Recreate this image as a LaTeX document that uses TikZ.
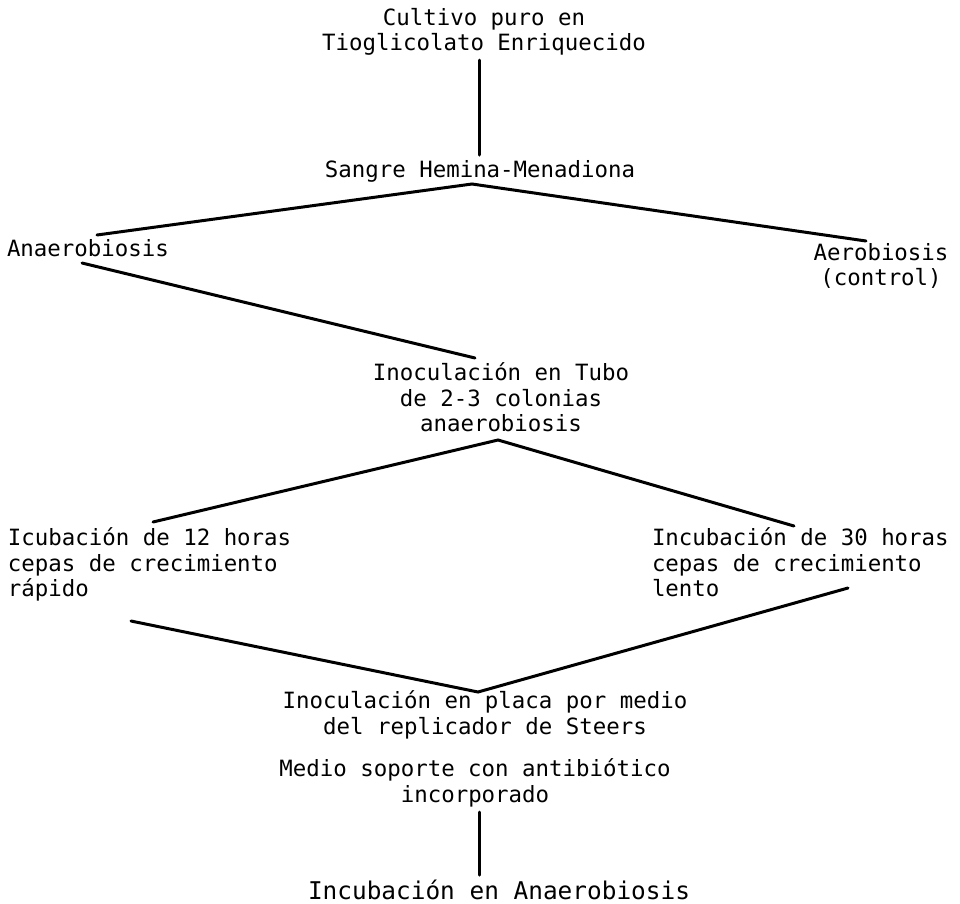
\documentclass[tikz,border=0pt]{standalone}
\usepackage{fontspec}
\newfontfamily\tw{DejaVu Sans Mono}
\begin{document}
\begin{tikzpicture}[x=1pt,y=-1pt,
  txt/.style={inner sep=0pt,outer sep=0pt,font=\tw\fontsize{22.4}{25.5}\selectfont},
  conn/.style={line width=3pt,line cap=round,black}]
\useasboundingbox[fill=white] (0,0) rectangle (960,903);
% nodes
\node[txt,anchor=north,align=center] (cultivo) at (484,8) {Cultivo puro en\\Tioglicolato Enriquecido};
\node[txt,anchor=base] (sangre) at (480,177) {Sangre Hemina-Menadiona};
\node[txt,anchor=base west] (anaer) at (7,256) {Anaerobiosis};
\node[txt,anchor=north,align=center] (aerob) at (881,243) {Aerobiosis\\(control)};
\node[txt,anchor=north,align=center] (tubo) at (501,363) {Inoculación en Tubo\\de 2-3 colonias\\anaerobiosis};
\node[txt,anchor=north west,align=left] (icub) at (8,528) {Icubación de 12 horas\\cepas de crecimiento\\rápido};
\node[txt,anchor=north west,align=left] (incub) at (652,528) {Incubación de 30 horas\\cepas de crecimiento\\lento};
\node[txt,anchor=north,align=center] (placa) at (485,691) {Inoculación en placa por medio\\del replicador de Steers};
\node[txt,anchor=north,align=center] (medio) at (475,759) {Medio soporte con antibiótico\\incorporado};
\node[txt,anchor=base,font=\tw\fontsize{24.4}{27}\selectfont] (final) at (499,899) {Incubación en Anaerobiosis};
% junction / end coordinates
\coordinate (c1) at (479,60);
\coordinate (s1) at (479,155);
\coordinate (j1) at (472,184);
\coordinate (l1) at (97,235);
\coordinate (r1) at (866,241);
\coordinate (l2) at (82,263);
\coordinate (t1) at (475,358);
\coordinate (j2) at (498,440);
\coordinate (l3) at (153,522);
\coordinate (r3) at (794,526);
\coordinate (l4) at (131,621);
\coordinate (r4) at (848,588);
\coordinate (j3) at (478,692);
\coordinate (m1) at (479,812);
\coordinate (f1) at (479,875);
% connectors
\draw[conn] (c1) -- (s1);
\draw[conn] (l1) -- (j1) -- (r1);
\draw[conn] (l2) -- (t1);
\draw[conn] (l3) -- (j2) -- (r3);
\draw[conn] (l4) -- (j3) -- (r4);
\draw[conn] (m1) -- (f1);
\end{tikzpicture}
\end{document}
